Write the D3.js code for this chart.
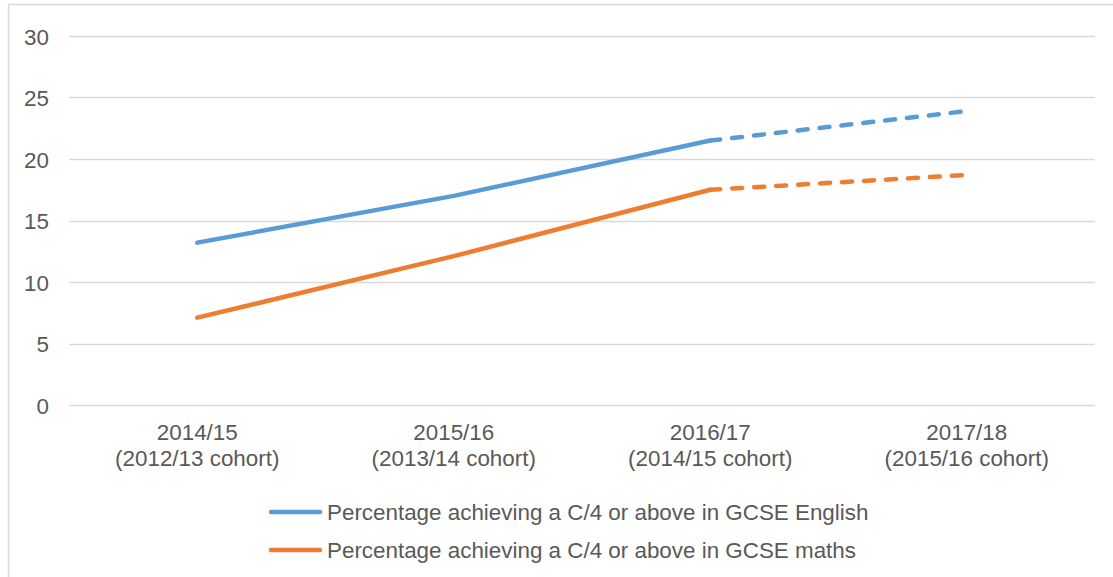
<!DOCTYPE html>
<html>
<head>
<meta charset="utf-8">
<script src="https://cdn.jsdelivr.net/npm/d3@7"></script>
<style>
  html, body { margin: 0; padding: 0; background: #fff; }
  svg text { font-family: "Liberation Sans", Arial, sans-serif; fill: #595959; }
</style>
</head>
<body>
<div id="chart"></div>
<script>
// data
var years      = ["2014/15", "2015/16", "2016/17", "2017/18"];
var cohorts    = ["(2012/13 cohort)", "(2013/14 cohort)", "(2014/15 cohort)", "(2015/16 cohort)"];
var english    = [13.2, 17.0, 21.5, 23.9];
var maths      = [7.1, 12.1, 17.5, 18.7];
var yTicks     = [0, 5, 10, 15, 20, 25, 30];
var lastActual = 2; // index of last actual year; after that the line is dashed (projection)
var seriesNames = [
    "Percentage achieving a C/4 or above in GCSE English",
    "Percentage achieving a C/4 or above in GCSE maths"
];
var seriesColors = ["#5B9BD5", "#ED7D31"];

(function () {
    var W = 1113, H = 577;
    var FONT = 22.4;
    var LW = 4.5;

    var svg = d3.select("#chart").append("svg")
        .attr("width", W).attr("height", H);

    // chart frame (only top and left edges are in view)
    svg.append("line")
        .attr("x1", 8.5).attr("x2", W).attr("y1", 4.5).attr("y2", 4.5)
        .attr("stroke", "#d9d9d9").attr("stroke-width", 1.5);
    svg.append("line")
        .attr("x1", 8.5).attr("x2", 8.5).attr("y1", 4.5).attr("y2", H)
        .attr("stroke", "#d9d9d9").attr("stroke-width", 1.5);

    var plot = { left: 69, right: 1095, top: 36, bottom: 405 };

    var x = d3.scaleBand()
        .domain(years)
        .range([plot.left, plot.right]);

    var y = d3.scaleLinear()
        .domain([0, 30])
        .range([plot.bottom, plot.top]);

    // gridlines
    svg.append("g").selectAll("line")
        .data(yTicks)
        .join("line")
        .attr("x1", plot.left).attr("x2", plot.right)
        .attr("y1", function (d) { return Math.round(y(d)) + 0.5; })
        .attr("y2", function (d) { return Math.round(y(d)) + 0.5; })
        .attr("stroke", "#d9d9d9")
        .attr("stroke-width", 1.3);

    // y axis labels
    var yAxis = svg.append("g")
        .attr("transform", "translate(" + plot.left + ",0)")
        .call(d3.axisLeft(y).tickValues(yTicks).tickSize(0).tickPadding(20));
    yAxis.select(".domain").remove();
    yAxis.selectAll("text")
        .attr("font-size", FONT)
        .attr("font-family", "Liberation Sans, Arial, sans-serif")
        .attr("fill", "#595959")
        .attr("dy", "0.36em");

    // x axis labels (two lines)
    var xAxis = svg.append("g")
        .attr("transform", "translate(0," + plot.bottom + ")")
        .call(d3.axisBottom(x).tickSize(0).tickPadding(0));
    xAxis.select(".domain").remove();
    xAxis.selectAll(".tick text").remove();
    xAxis.selectAll(".tick").each(function (d, i) {
        var t = d3.select(this).append("text")
            .attr("text-anchor", "middle")
            .attr("font-size", FONT)
            .attr("fill", "#595959");
        t.append("tspan").attr("x", 0).attr("y", 35).text(years[i]);
        t.append("tspan").attr("x", 0).attr("y", 61).text(cohorts[i]);
    });

    // lines: solid for actual, dashed for projection
    var line = d3.line()
        .x(function (d) { return x(d.year) + x.bandwidth() / 2; })
        .y(function (d) { return y(d.value); });

    [english, maths].forEach(function (vals, s) {
        var pts = vals.map(function (v, i) { return { year: years[i], value: v }; });
        svg.append("path")
            .datum(pts.slice(0, lastActual + 1))
            .attr("fill", "none")
            .attr("stroke", seriesColors[s])
            .attr("stroke-width", LW)
            .attr("stroke-linejoin", "round")
            .attr("stroke-linecap", "round")
            .attr("d", line);
        svg.append("path")
            .datum(pts.slice(lastActual))
            .attr("fill", "none")
            .attr("stroke", seriesColors[s])
            .attr("stroke-width", LW)
            .attr("stroke-linecap", "round")
            .attr("stroke-dasharray", "10 12")
            .attr("d", line);
    });

    // legend
    var legend = svg.append("g").attr("transform", "translate(269,0)");
    seriesNames.forEach(function (name, i) {
        var yy = 512 + i * 38;
        legend.append("line")
            .attr("x1", 2).attr("x2", 51)
            .attr("y1", yy).attr("y2", yy)
            .attr("stroke", seriesColors[i])
            .attr("stroke-width", LW)
            .attr("stroke-linecap", "round");
        legend.append("text")
            .attr("x", 58).attr("y", yy)
            .attr("dy", "0.36em")
            .attr("font-size", FONT)
            .text(name);
    });
}());
</script>
</body>
</html>
